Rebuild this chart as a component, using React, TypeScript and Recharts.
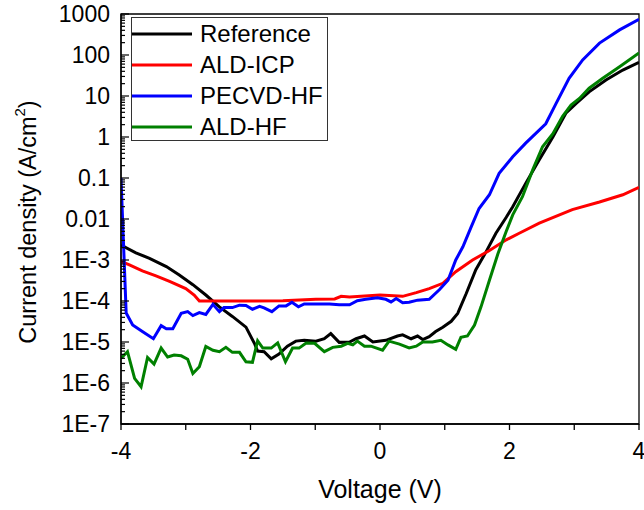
import React from "react";
import {
  LineChart,
  Line,
  XAxis,
  YAxis,
  Legend,
  ReferenceArea,
} from "recharts";

const FONT = "'Liberation Sans', Arial, sans-serif";

// Reference (black)
const refV = [-4.0, -3.77, -3.56, -3.3, -3.1, -2.89, -2.69, -2.48, -2.28, -2.07, -1.94, -1.89, -1.79, -1.68, -1.56, -1.43, -1.3, -1.17, -0.99, -0.86, -0.76, -0.63, -0.47, -0.37, -0.24, -0.11, 0.09, 0.27, 0.35, 0.48, 0.58, 0.66, 0.76, 0.86, 0.97, 1.1, 1.2, 1.33, 1.48, 1.64, 1.79, 1.95, 2.05, 2.25, 2.46, 2.67, 2.87, 3.03, 3.23, 3.49, 3.75, 4.0];
const refJ = [2.3e-3, 1.5e-3, 1.1e-3, 6.9e-4, 4.3e-4, 2.5e-4, 1.4e-4, 7.2e-5, 4.2e-5, 2.3e-5, 9.3e-6, 6.0e-6, 5.8e-6, 3.9e-6, 5.1e-6, 7.9e-6, 1.05e-5, 1.1e-5, 1.05e-5, 1.2e-5, 1.6e-5, 9.8e-6, 1.0e-5, 1.2e-5, 1.4e-5, 1.0e-5, 1.1e-5, 1.4e-5, 1.5e-5, 1.2e-5, 1.4e-5, 1.15e-5, 1.35e-5, 1.8e-5, 2.3e-5, 3.2e-5, 5.0e-5, 1.5e-4, 5.8e-4, 1.6e-3, 4.5e-3, 1.1e-2, 2.0e-2, 7.4e-2, 0.28, 1.0, 3.8, 6.6, 12.6, 24.5, 43, 66];

// ALD-ICP (red)
const icpV = [-4.0, -3.87, -3.67, -3.46, -3.25, -3.0, -2.87, -2.79, -2.4, -2.0, -1.5, -0.99, -0.7, -0.6, -0.47, 0.0, 0.35, 0.56, 0.76, 0.97, 1.17, 1.43, 1.69, 1.95, 2.15, 2.46, 2.97, 3.39, 3.75, 4.0];
const icpJ = [9.3e-4, 7.6e-4, 5.4e-4, 4.1e-4, 3.0e-4, 2.0e-4, 1.4e-4, 1.0e-4, 1.0e-4, 1.0e-4, 1.02e-4, 1.1e-4, 1.12e-4, 1.3e-4, 1.26e-4, 1.4e-4, 1.3e-4, 1.6e-4, 2.0e-4, 2.7e-4, 5.2e-4, 1.0e-3, 1.7e-3, 3.1e-3, 4.5e-3, 7.9e-3, 1.7e-2, 2.6e-2, 3.9e-2, 5.9e-2];

// PECVD-HF (blue)
const pecvdV = [-4.0, -3.92, -3.82, -3.67, -3.5, -3.38, -3.3, -3.2, -3.07, -2.97, -2.89, -2.79, -2.69, -2.58, -2.48, -2.41, -2.28, -2.17, -2.07, -1.97, -1.86, -1.79, -1.67, -1.56, -1.45, -1.36, -1.26, -1.17, -0.99, -0.78, -0.63, -0.47, -0.35, -0.22, -0.04, 0.09, 0.17, 0.25, 0.35, 0.45, 0.58, 0.76, 0.92, 1.05, 1.17, 1.28, 1.41, 1.53, 1.69, 1.84, 2.05, 2.25, 2.56, 2.72, 2.92, 3.13, 3.39, 3.7, 4.0];
const pecvdJ = [0.1, 5.1e-5, 2.6e-5, 1.8e-5, 1.2e-5, 2.5e-5, 2.1e-5, 2.1e-5, 5.0e-5, 5.5e-5, 4.4e-5, 5.2e-5, 4.7e-5, 8.3e-5, 5.5e-5, 6.9e-5, 6.9e-5, 7.9e-5, 7.8e-5, 6.3e-5, 7.4e-5, 6.8e-5, 5.5e-5, 7.6e-5, 7.6e-5, 9.3e-5, 7.2e-5, 8.5e-5, 8.5e-5, 8.5e-5, 8.1e-5, 8.1e-5, 1.02e-4, 1.1e-4, 1.2e-4, 1.1e-4, 9.5e-5, 1.15e-4, 9.1e-5, 9.3e-5, 1.05e-4, 1.1e-4, 1.9e-4, 3.2e-4, 1.0e-3, 2.1e-3, 6.5e-3, 1.8e-2, 3.9e-2, 0.13, 0.33, 0.71, 2.1, 6.6, 27, 76, 195, 410, 740];

// ALD-HF (green)
const hfV = [-4.0, -3.9, -3.79, -3.69, -3.59, -3.49, -3.38, -3.28, -3.18, -3.07, -2.97, -2.89, -2.79, -2.69, -2.58, -2.48, -2.38, -2.28, -2.17, -2.07, -1.97, -1.89, -1.81, -1.68, -1.58, -1.46, -1.35, -1.25, -1.14, -1.01, -0.86, -0.73, -0.6, -0.5, -0.42, -0.35, -0.24, -0.14, 0.04, 0.14, 0.3, 0.45, 0.56, 0.66, 0.81, 0.94, 1.05, 1.17, 1.25, 1.35, 1.46, 1.56, 1.69, 1.82, 1.95, 2.05, 2.2, 2.36, 2.51, 2.67, 2.82, 2.95, 3.08, 3.23, 3.44, 3.7, 4.0];
const hfJ = [4.0e-6, 5.8e-6, 1.3e-6, 8.1e-7, 4.2e-6, 2.9e-6, 7.1e-6, 4.3e-6, 4.8e-6, 4.6e-6, 3.8e-6, 1.7e-6, 2.5e-6, 7.8e-6, 6.3e-6, 5.8e-6, 7.4e-6, 5.6e-6, 5.6e-6, 3.3e-6, 3.2e-6, 1.07e-5, 7.1e-6, 7.1e-6, 9.5e-6, 3.3e-6, 7.1e-6, 7.1e-6, 9.5e-6, 9.3e-6, 5.8e-6, 7.4e-6, 7.9e-6, 9.3e-6, 8.5e-6, 1.05e-5, 7.9e-6, 7.9e-6, 6.3e-6, 1.05e-5, 8.9e-6, 7.2e-6, 7.9e-6, 1.0e-5, 1.0e-5, 1.1e-5, 8.5e-6, 6.6e-6, 1.3e-5, 1.4e-5, 2.6e-5, 7.2e-5, 3.2e-4, 1.4e-3, 5.0e-3, 1.26e-2, 3.5e-2, 0.16, 0.58, 1.2, 3.2, 6.0, 8.7, 15.5, 27, 52, 112];

const xTicks = [-4, -3, -2, -1, 0, 1, 2, 3, 4];
const decades = [1e-7, 1e-6, 1e-5, 1e-4, 1e-3, 0.01, 0.1, 1, 10, 100, 1000];
const decadeLabels = ["1E-7", "1E-6", "1E-5", "1E-4", "1E-3", "0.01", "0.1", "1", "10", "100", "1000"];

const series = [
  { name: "Reference", color: "#000000", v: refV, j: refJ },
  { name: "ALD-ICP", color: "#ff0000", v: icpV, j: icpJ },
  { name: "PECVD-HF", color: "#0000ff", v: pecvdV, j: pecvdJ },
  { name: "ALD-HF", color: "#008000", v: hfV, j: hfJ },
];

// major decades plus 2..9 minor ticks
const yTicks: number[] = [];
decades.forEach((d, i) => {
  yTicks.push(d);
  if (i < decades.length - 1) for (let m = 2; m <= 9; m++) yTicks.push(+(d * m).toPrecision(3));
});

function YTick({ x, y, payload }: any) {
  const v = payload.value;
  const idx = decades.findIndex((d) => Math.abs(d - v) / d < 1e-6);
  const major = idx >= 0;
  return (
    <g>
      <line x1={x} x2={x + (major ? 8 : 4)} y1={y} y2={y} stroke="#000" strokeWidth={1.2} />
      {major && (
        <text x={x - 11} y={y} dy="0.36em" textAnchor="end" fontSize={23} fontFamily={FONT} fill="#000">
          {decadeLabels[idx]}
        </text>
      )}
    </g>
  );
}

function YTitle() {
  const cy = 222;
  const cx = 28;
  return (
    <text
      x={cx}
      y={cy}
      transform={`rotate(-90, ${cx}, ${cy})`}
      textAnchor="middle"
      dominantBaseline="central"
      fontSize={23.5}
      fontFamily={FONT}
      fill="#000"
    >
      Current density (A/cm
      <tspan dy={-9} fontSize={15}>2</tspan>
      <tspan dy={9}>)</tspan>
    </text>
  );
}

function XTitle({ viewBox }: any) {
  const cx = viewBox.x + viewBox.width / 2;
  return (
    <text x={cx} y={498} textAnchor="middle" fontSize={25} fontFamily={FONT} fill="#000">
      Voltage (V)
    </text>
  );
}

function LegendBox() {
  return (
    <div
      style={{
        width: 197,
        height: 124,
        border: "1px solid #333",
        background: "#fff",
        fontFamily: FONT,
        fontSize: 24,
        boxSizing: "border-box",
      }}
    >
      {series.map((s) => (
        <div key={s.name} style={{ height: 31, display: "flex", alignItems: "center" }}>
          <svg width={68} height={10} style={{ flex: "none" }}>
            <line x1={0} x2={60} y1={5} y2={5} stroke={s.color} strokeWidth={3} />
          </svg>
          <span style={{ color: "#000", lineHeight: 1, whiteSpace: "nowrap" }}>{s.name}</span>
        </div>
      ))}
    </div>
  );
}

export default function App() {
  return (
    <div style={{ position: "absolute", left: 0, top: 0, width: 644, height: 510, background: "#fff" }}>
      <LineChart width={644} height={510} margin={{ top: 14, right: 5, bottom: 0, left: 0 }}>
        <XAxis
          type="number"
          dataKey="v"
          domain={[-4, 4]}
          ticks={xTicks}
          interval={0}
          allowDataOverflow
          tickFormatter={(t: number) => (t % 2 === 0 ? String(t) : "")}
          tick={{ fontSize: 23, fontFamily: FONT, fill: "#000" }}
          tickSize={6}
          tickMargin={13}
          height={86}
          stroke="#000"
          strokeWidth={1.3}
          label={<XTitle />}
        />
        <YAxis
          type="number"
          scale="log"
          domain={[1e-7, 1000]}
          ticks={yTicks}
          interval={0}
          allowDataOverflow
          tick={<YTick />}
          tickLine={false}
          tickSize={0}
          tickMargin={0}
          width={121}
          stroke="#000"
          strokeWidth={1.3}
          label={<YTitle />}
        />
        <ReferenceArea x1={-4} x2={4} y1={1e-7} y2={1000} fill="none" stroke="#000" strokeWidth={1.3} ifOverflow="visible" />
        {series.map((s) => (
          <Line
            key={s.name}
            name={s.name}
            data={s.v.map((v, i) => ({ v, j: s.j[i] }))}
            dataKey="j"
            type="linear"
            stroke={s.color}
            strokeWidth={3}
            dot={false}
            isAnimationActive={false}
          />
        ))}
        <Legend
          layout="vertical"
          align="center"
          verticalAlign="middle"
          content={() => <LegendBox />}
          wrapperStyle={{ left: 131, top: 17, width: 197, height: 124 }}
        />
      </LineChart>
    </div>
  );
}
